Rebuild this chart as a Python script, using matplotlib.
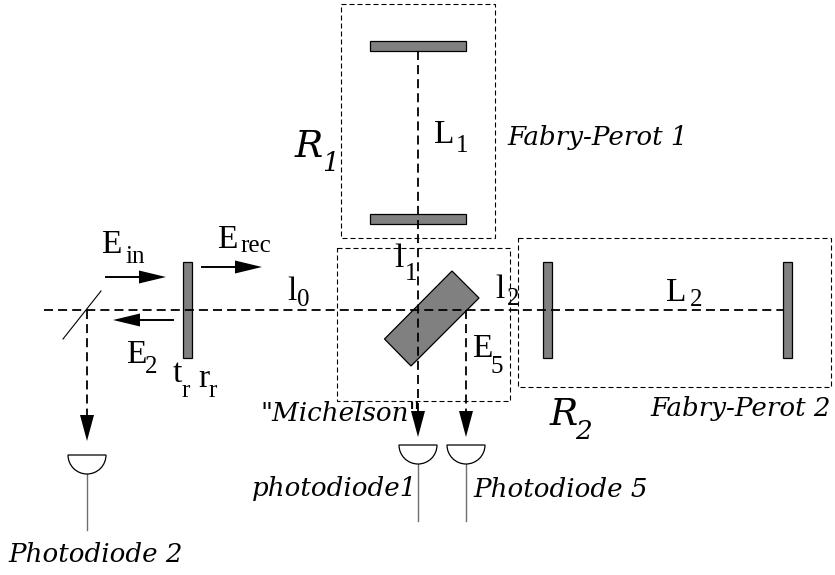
import matplotlib
matplotlib.use("Agg")
import matplotlib.pyplot as plt
from matplotlib.patches import Rectangle, Polygon, Wedge

# ------------ elementos do diagrama (coordenadas em pixels da figura) ------------
CAIXAS = [(341, 3.5, 153.5, 234.5), (336.5, 248, 173, 153), (518, 238, 313, 149)]
ESPELHOS = [(370, 41, 96, 10), (370, 214, 96, 10), (183, 262, 9, 96),
            (543, 262, 9, 96), (783, 262, 9, 96)]
DIVISOR = [(452, 271), (479, 298), (411, 366), (384.5, 339)]
FEIXES = [((44, 310), (783, 310)), ((418, 51), (418, 412)),
          ((466, 310), (466, 412)), ((87, 310), (87, 416))]
SETAS = [((106, 277), (166, 277)), ((202, 267), (262, 267)), ((173, 320), (113, 320))]
PONTAS_BAIXO = [(418, 411), (466, 411), (87, 415)]
DIODOS = [(418, 445, 521), (466, 445, 521), (87, 455, 530)]
PICKOFF = ((63, 339), (101, 291))

# texto, x, y, tamanho
ROTULOS_ITALICO = [("Fabry-Perot 1", 507, 145, 18.8), ("Fabry-Perot 2", 650, 416, 18.8),
                   ('"Michelson"', 260, 421, 18.8), ("photodiode1", 252, 496, 18.8),
                   ("Photodiode 5", 473, 497, 18.8), ("Photodiode 2", 8, 562, 18.8)]
# letra, indice, x, y, x do indice, y do indice
ROTULOS_R = [("R", "1", 295, 157, 322, 171), ("R", "2", 550, 425, 575, 439)]
ROTULOS = [("E", "in", 101, 253, 125, 263), ("E", "rec", 217, 248, 240, 252),
           ("E", "2", 126, 363, 145, 373), ("t", "r", 173, 382, 181, 397),
           ("r", "r", 198, 387, 208, 397), ("l", "0", 287, 300, 297, 306),
           ("l", "1", 394, 267, 405, 280), ("l", "2", 495, 298, 507, 305),
           ("L", "1", 434, 143, 456, 152), ("L", "2", 666, 301, 690, 306),
           ("E", "5", 472, 357, 491, 373)]

fig = plt.figure(figsize=(8.35, 5.75), dpi=100)
ax = fig.add_axes([0, 0, 1, 1])
ax.set_xlim(0, 835)
ax.set_ylim(575, 0)
ax.axis("off")

for x, y, w, h in CAIXAS:
    ax.add_patch(Rectangle((x, y), w, h, fill=False, ec="black", lw=0.8, ls=(0, (4.5, 2.7)), zorder=1))

for x, y, w, h in ESPELHOS:
    ax.add_patch(Rectangle((x, y), w, h, fc="#808080", ec="black", lw=0.9, zorder=2))

ax.add_patch(Polygon(DIVISOR, closed=True, fc="#808080", ec="black", lw=0.9, zorder=2))

for a, b in FEIXES:
    ax.plot([a[0], b[0]], [a[1], b[1]], color="black", lw=1.3, ls=(0, (5, 2.8)), zorder=3)

ax.plot([PICKOFF[0][0], PICKOFF[1][0]], [PICKOFF[0][1], PICKOFF[1][1]], color="black", lw=0.8, zorder=3)

# setas horizontais: linha + ponta triangular
for a, b in SETAS:
    sentido = 1 if b[0] > a[0] else -1
    base = b[0] - sentido * 27
    ax.plot([a[0], base], [a[1], b[1]], color="black", lw=1.4, zorder=4)
    ax.add_patch(Polygon([(base, b[1] - 6.5), (base, b[1] + 6.5), b], closed=True,
                         fc="black", ec="none", zorder=4))

for x, y in PONTAS_BAIXO:
    ax.add_patch(Polygon([(x - 7, y), (x + 7, y), (x, y + 26)], closed=True,
                         fc="black", ec="none", zorder=4))

for x, y, fim in DIODOS:
    ax.add_patch(Wedge((x, y), 19, 0, 180, fc="white", ec="black", lw=0.9, zorder=4))
    ax.plot([x, x], [y + 19, fim], color="#707070", lw=1.0, zorder=3)

for txt, x, y, tam in ROTULOS_ITALICO:
    ax.text(x, y, txt, family="DejaVu Serif", style="italic", fontsize=tam, va="baseline", ha="left", zorder=5)

for letra, ind, x, y, xi, yi in ROTULOS_R:
    ax.text(x, y, letra, family="DejaVu Serif", style="italic", fontsize=27, va="baseline", zorder=5)
    ax.text(xi, yi, ind, family="DejaVu Serif", style="italic", fontsize=19, va="baseline", zorder=5)

for letra, ind, x, y, xi, yi in ROTULOS:
    ax.text(x, y, letra, family="Liberation Serif", fontsize=24, va="baseline", zorder=5)
    ax.text(xi, yi, ind, family="Liberation Serif", fontsize=18, va="baseline", zorder=5)

fig.savefig("out.png", dpi=100)
